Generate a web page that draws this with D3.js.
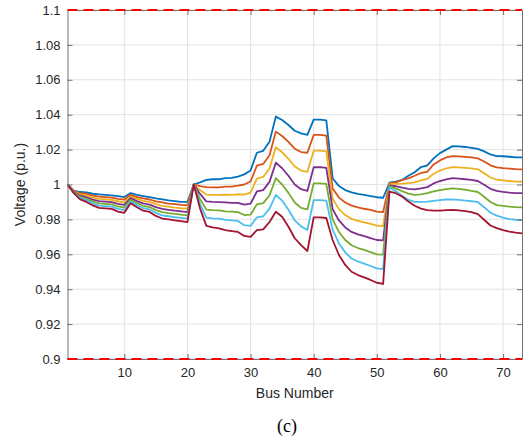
<!DOCTYPE html>
<html>
<head>
<meta charset="utf-8">
<script src="https://cdn.jsdelivr.net/npm/d3@7"></script>
<style>
  html, body { margin: 0; padding: 0; background: #fff; }
  svg { display: block; }
</style>
</head>
<body>
<svg id="chart" width="526" height="440"></svg>
<script>
// ---------- data ----------
const buses = d3.range(1, 74); // bus numbers 1..73
const xTicks = [10, 20, 30, 40, 50, 60, 70];
const yTicks = [0.9, 0.92, 0.94, 0.96, 0.98, 1, 1.02, 1.04, 1.06, 1.08, 1.1];
const limits = [0.9, 1.1];

const case1 = [
  1.0000, 0.9965, 0.9957, 0.9955, 0.9947, 0.9944, 0.9941, 0.9938, 0.9933, 0.9928, 0.9951, 0.9940, 0.9934, 0.9928, 0.9920, 0.9915, 0.9909, 0.9905, 0.9901, 0.9900,
  1.0000, 1.0012, 1.0026, 1.0030, 1.0030, 1.0037, 1.0038, 1.0045, 1.0058, 1.0080, 1.0182, 1.0193, 1.0245, 1.0389, 1.0370, 1.0341, 1.0308, 1.0293, 1.0284, 1.0372, 1.0372, 1.0368, 1.0036, 0.9991, 0.9968, 0.9955, 0.9946, 0.9940, 0.9934, 0.9927, 0.9924,
  1.0010, 1.0016, 1.0026, 1.0050, 1.0070, 1.0100, 1.0110, 1.0150, 1.0180, 1.0200, 1.0220, 1.0218, 1.0215, 1.0210, 1.0204, 1.0190, 1.0172, 1.0163, 1.0162, 1.0159, 1.0156, 1.0155
];
const case2 = [
  1.0000, 0.9963, 0.9950, 0.9946, 0.9936, 0.9931, 0.9928, 0.9925, 0.9918, 0.9913, 0.9941, 0.9928, 0.9920, 0.9914, 0.9903, 0.9897, 0.9891, 0.9887, 0.9883, 0.9881,
  1.0000, 0.9991, 0.9985, 0.9984, 0.9984, 0.9988, 0.9988, 0.9993, 1.0000, 1.0017, 1.0108, 1.0118, 1.0168, 1.0303, 1.0278, 1.0244, 1.0205, 1.0186, 1.0182, 1.0284, 1.0284, 1.0280, 0.9977, 0.9925, 0.9897, 0.9879, 0.9869, 0.9861, 0.9854, 0.9845, 0.9842,
  1.0007, 1.0012, 1.0025, 1.0035, 1.0050, 1.0066, 1.0073, 1.0115, 1.0138, 1.0155, 1.0163, 1.0161, 1.0158, 1.0155, 1.0150, 1.0132, 1.0110, 1.0098, 1.0094, 1.0091, 1.0088, 1.0087
];
const case3 = [
  1.0000, 0.9960, 0.9943, 0.9937, 0.9925, 0.9918, 0.9915, 0.9912, 0.9904, 0.9898, 0.9931, 0.9917, 0.9906, 0.9900, 0.9887, 0.9878, 0.9873, 0.9868, 0.9864, 0.9862,
  1.0000, 0.9968, 0.9942, 0.9940, 0.9940, 0.9942, 0.9941, 0.9944, 0.9942, 0.9953, 1.0034, 1.0043, 1.0092, 1.0213, 1.0185, 1.0147, 1.0103, 1.0080, 1.0073, 1.0194, 1.0194, 1.0190, 0.9918, 0.9859, 0.9825, 0.9803, 0.9791, 0.9783, 0.9774, 0.9764, 0.9762,
  1.0002, 1.0004, 1.0005, 1.0008, 1.0012, 1.0024, 1.0032, 1.0062, 1.0080, 1.0093, 1.0100, 1.0098, 1.0095, 1.0092, 1.0087, 1.0065, 1.0040, 1.0028, 1.0024, 1.0020, 1.0017, 1.0016
];
const case4 = [
  1.0000, 0.9958, 0.9936, 0.9927, 0.9913, 0.9905, 0.9902, 0.9899, 0.9889, 0.9883, 0.9922, 0.9905, 0.9892, 0.9885, 0.9870, 0.9860, 0.9855, 0.9850, 0.9846, 0.9842,
  1.0000, 0.9946, 0.9903, 0.9900, 0.9899, 0.9897, 0.9895, 0.9895, 0.9885, 0.9890, 0.9960, 0.9968, 1.0015, 1.0125, 1.0093, 1.0050, 1.0000, 0.9973, 0.9963, 1.0099, 1.0099, 1.0095, 0.9859, 0.9794, 0.9754, 0.9728, 0.9714, 0.9704, 0.9693, 0.9682, 0.9680,
  0.9995, 0.9990, 0.9982, 0.9975, 0.9972, 0.9978, 0.9985, 1.0006, 1.0020, 1.0030, 1.0037, 1.0034, 1.0030, 1.0026, 1.0020, 0.9998, 0.9975, 0.9963, 0.9958, 0.9954, 0.9951, 0.9950
];
const case5 = [
  1.0000, 0.9955, 0.9929, 0.9918, 0.9902, 0.9892, 0.9889, 0.9886, 0.9874, 0.9868, 0.9912, 0.9893, 0.9878, 0.9871, 0.9853, 0.9842, 0.9836, 0.9832, 0.9827, 0.9823,
  1.0000, 0.9915, 0.9856, 0.9853, 0.9852, 0.9846, 0.9844, 0.9842, 0.9825, 0.9827, 0.9886, 0.9893, 0.9938, 1.0036, 1.0000, 0.9952, 0.9897, 0.9866, 0.9857, 1.0007, 1.0007, 1.0003, 0.9800, 0.9728, 0.9682, 0.9652, 0.9636, 0.9625, 0.9613, 0.9600, 0.9598,
  0.9990, 0.9978, 0.9962, 0.9948, 0.9940, 0.9944, 0.9950, 0.9960, 0.9968, 0.9974, 0.9978, 0.9975, 0.9970, 0.9963, 0.9957, 0.9930, 0.9900, 0.9882, 0.9877, 0.9873, 0.9870, 0.9869
];
const case6 = [
  1.0000, 0.9953, 0.9922, 0.9909, 0.9891, 0.9879, 0.9876, 0.9873, 0.9860, 0.9853, 0.9902, 0.9882, 0.9864, 0.9857, 0.9837, 0.9823, 0.9818, 0.9813, 0.9809, 0.9804,
  1.0000, 0.9888, 0.9810, 0.9806, 0.9804, 0.9797, 0.9794, 0.9791, 0.9767, 0.9763, 0.9812, 0.9818, 0.9862, 0.9940, 0.9908, 0.9855, 0.9795, 0.9760, 0.9739, 0.9911, 0.9911, 0.9907, 0.9741, 0.9662, 0.9611, 0.9576, 0.9559, 0.9547, 0.9533, 0.9519, 0.9515,
  0.9983, 0.9962, 0.9935, 0.9912, 0.9901, 0.9900, 0.9902, 0.9906, 0.9910, 0.9914, 0.9915, 0.9912, 0.9908, 0.9904, 0.9900, 0.9870, 0.9838, 0.9822, 0.9810, 0.9802, 0.9798, 0.9796
];
const case7 = [
  1.0000, 0.9950, 0.9915, 0.9900, 0.9880, 0.9866, 0.9863, 0.9860, 0.9845, 0.9838, 0.9892, 0.9870, 0.9850, 0.9843, 0.9820, 0.9805, 0.9800, 0.9795, 0.9790, 0.9785,
  1.0000, 0.9862, 0.9763, 0.9754, 0.9748, 0.9738, 0.9733, 0.9728, 0.9705, 0.9700, 0.9738, 0.9743, 0.9785, 0.9844, 0.9815, 0.9758, 0.9692, 0.9653, 0.9619, 0.9812, 0.9812, 0.9808, 0.9682, 0.9596, 0.9539, 0.9500, 0.9481, 0.9468, 0.9453, 0.9437, 0.9430,
  0.9959, 0.9950, 0.9931, 0.9902, 0.9878, 0.9862, 0.9853, 0.9850, 0.9850, 0.9853, 0.9855, 0.9852, 0.9848, 0.9842, 0.9830, 0.9798, 0.9765, 0.9750, 0.9738, 0.9730, 0.9724, 0.9720
];
const seriesList = [case1, case2, case3, case4, case5, case6, case7];
const colors = ["#0072BD", "#D95319", "#EDB120", "#7E2F8E", "#77AC30", "#4DBEEE", "#A2142F"];

// ---------- layout ----------
const svg = d3.select("#chart");
const pLeft = 67.5, pRight = 522, pTop = 10, pBottom = 359;
const x = d3.scaleLinear().domain([1, 73]).range([pLeft, pRight]);
const y = d3.scaleLinear().domain([0.9, 1.1]).range([pBottom, pTop]);
const font = "'Liberation Sans', Arial, Helvetica, sans-serif";

// grid
const g = svg.append("g");
g.selectAll(".gx").data(xTicks).enter().append("line")
  .attr("x1", d => x(d)).attr("x2", d => x(d))
  .attr("y1", pTop).attr("y2", pBottom)
  .attr("stroke", "#e3e3e3").attr("stroke-width", 1);
g.selectAll(".gy").data(yTicks).enter().append("line")
  .attr("x1", pLeft).attr("x2", pRight)
  .attr("y1", d => y(d)).attr("y2", d => y(d))
  .attr("stroke", "#e3e3e3").attr("stroke-width", 1);

// series lines
const line = d3.line().x((d, i) => x(buses[i])).y(d => y(d));
seriesList.forEach((s, k) => {
  svg.append("path").datum(s)
    .attr("d", line)
    .attr("fill", "none")
    .attr("stroke", colors[k])
    .attr("stroke-width", 1.8)
    .attr("stroke-linejoin", "round");
});

// axes (MATLAB-like box with inward ticks)
const axisColor = "#707070";
const xAxisB = d3.axisBottom(x).tickValues(xTicks).tickSizeInner(-5).tickSizeOuter(0).tickPadding(9);
const yAxisL = d3.axisLeft(y).tickValues(yTicks).tickSizeInner(-5).tickSizeOuter(0).tickPadding(7)
  .tickFormat(d => String(+d.toFixed(2)));
const xAxisT = d3.axisTop(x).tickValues(xTicks).tickSizeInner(-5).tickSizeOuter(0).tickFormat("");
const yAxisR = d3.axisRight(y).tickValues(yTicks).tickSizeInner(-5).tickSizeOuter(0).tickFormat("");

function styleAxis(sel) {
  sel.selectAll("path.domain").attr("stroke", axisColor).attr("stroke-width", 1);
  sel.selectAll(".tick line").attr("stroke", axisColor);
  sel.selectAll(".tick text").attr("fill", "#262626").style("font-family", font).style("font-size", "13px");
}
styleAxis(svg.append("g").attr("transform", `translate(0,${pBottom})`).call(xAxisB));
styleAxis(svg.append("g").attr("transform", `translate(${pLeft},0)`).call(yAxisL));
styleAxis(svg.append("g").attr("transform", `translate(0,${pTop})`).call(xAxisT));
styleAxis(svg.append("g").attr("transform", `translate(${pRight},0)`).call(yAxisR));

// voltage limits (red dashed)
svg.selectAll(".lim").data(limits).enter().append("line")
  .attr("x1", pLeft).attr("x2", pRight)
  .attr("y1", d => y(d)).attr("y2", d => y(d))
  .attr("stroke", "#FF0000").attr("stroke-width", 1.8)
  .attr("stroke-dasharray", "10,6");

// labels
svg.append("text")
  .attr("x", (pLeft + pRight) / 2).attr("y", 398)
  .attr("text-anchor", "middle")
  .attr("fill", "#262626")
  .style("font-family", font).style("font-size", "14px")
  .text("Bus Number");
svg.append("text")
  .attr("transform", `translate(25,${(pTop + pBottom) / 2}) rotate(-90)`)
  .attr("text-anchor", "middle")
  .attr("fill", "#262626")
  .style("font-family", font).style("font-size", "14px")
  .text("Voltage (p.u.)");
svg.append("text")
  .attr("x", 287).attr("y", 432)
  .attr("text-anchor", "middle")
  .attr("fill", "#000")
  .style("font-family", "'Liberation Serif', 'Times New Roman', serif").style("font-size", "18px")
  .text("(c)");
</script>
</body>
</html>
